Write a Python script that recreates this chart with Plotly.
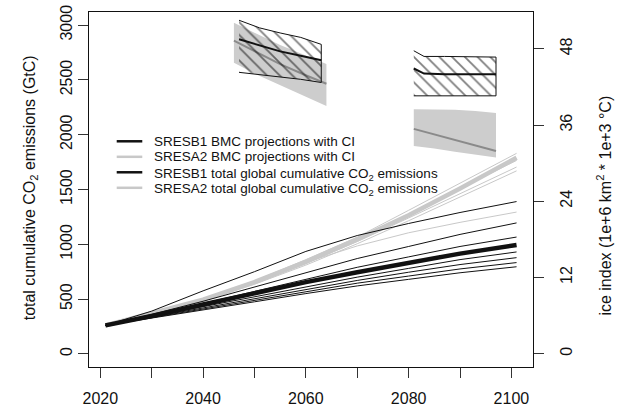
import plotly.graph_objects as go

# ---- data ----
years = [2021, 2030, 2040, 2050, 2060, 2070, 2080, 2090, 2101]

b1_thin = [
    [260, 390, 575, 750, 935, 1080, 1190, 1290, 1390],
    [260, 360, 480, 610, 740, 870, 980, 1090, 1195],
    [260, 350, 460, 570, 680, 790, 885, 980, 1066],
    [260, 340, 430, 520, 610, 700, 780, 860, 930],
    [260, 335, 420, 505, 590, 670, 745, 815, 878],
    [260, 330, 410, 490, 570, 645, 710, 775, 833],
    [260, 325, 400, 475, 550, 620, 680, 740, 795],
]
b1_thick = [260, 345, 450, 555, 655, 745, 830, 915, 994]

a2_thin = [
    [260, 370, 500, 665, 860, 1065, 1310, 1560, 1830],
    [260, 368, 495, 655, 845, 1045, 1275, 1510, 1765],
    [260, 365, 490, 645, 825, 1025, 1240, 1460, 1705],
    [260, 362, 485, 635, 810, 1005, 1215, 1435, 1670],
    [260, 370, 505, 665, 835, 985, 1105, 1200, 1294],
]
a2_thick = [260, 368, 495, 655, 840, 1045, 1265, 1510, 1790]

# BMC projections (ice index) with CI
b1_p1_years = [2047, 2051, 2055, 2059, 2063]
b1_p1_upper = [52.5, 51.3, 50.5, 49.8, 48.7]
b1_p1_mid = [49.5, 48.5, 47.6, 46.9, 46.2]
b1_p1_lower = [44.3, 44.0, 43.6, 43.2, 42.7]

a2_p1_years = [2046, 2050.5, 2055, 2059.5, 2064]
a2_p1_upper = [52.1, 50.3, 48.6, 47.1, 45.6]
a2_p1_mid = [49.3, 47.4, 45.6, 44.0, 42.5]
a2_p1_lower = [45.8, 43.9, 42.2, 40.6, 39.0]

b1_p2_years = [2081, 2083, 2087, 2092, 2097]
b1_p2_upper = [47.7, 46.8, 46.8, 46.7, 46.7]
b1_p2_mid = [44.9, 44.1, 44.0, 44.0, 44.0]
b1_p2_lower = [40.6, 40.6, 40.6, 40.6, 40.6]

a2_p2_years = [2081, 2085, 2089, 2093, 2097]
a2_p2_upper = [38.5, 38.5, 38.4, 38.2, 37.9]
a2_p2_mid = [35.4, 34.5, 33.7, 32.8, 31.9]
a2_p2_lower = [32.7, 32.3, 31.8, 31.3, 30.9]

x_ticks = [2020, 2030, 2040, 2050, 2060, 2070, 2080, 2090, 2100]
x_labels = ["2020", "", "2040", "", "2060", "", "2080", "", "2100"]
y1_ticks = [0, 500, 1000, 1500, 2000, 2500, 3000]
y2_ticks = [0, 12, 24, 36, 48]

legend_names = [
    "SRESB1 BMC projections with CI",
    "SRESA2 BMC projections with CI",
    "SRESB1 total global cumulative CO<sub>2</sub> emissions",
    "SRESA2 total global cumulative CO<sub>2</sub> emissions",
]

BLACK = "#111111"
LGRAY = "#c8c8c8"
BAND = "#cdcdcd"
MGRAY = "#8a8a8a"
FAMILY = "Liberation Sans, Arial, sans-serif"

fig = go.Figure()

# emission lines (left axis)
for ys in a2_thin:
    fig.add_trace(go.Scatter(x=years, y=ys, mode="lines", line=dict(color=LGRAY, width=1),
                             showlegend=False, hoverinfo="skip"))
fig.add_trace(go.Scatter(x=years, y=a2_thick, mode="lines", line=dict(color=LGRAY, width=4.5),
                         showlegend=False))
for ys in b1_thin:
    fig.add_trace(go.Scatter(x=years, y=ys, mode="lines", line=dict(color=BLACK, width=1),
                             showlegend=False, hoverinfo="skip"))
fig.add_trace(go.Scatter(x=years, y=b1_thick, mode="lines", line=dict(color=BLACK, width=4.5),
                         showlegend=False))


def band(xs, up, lo, **kw):
    return go.Scatter(x=xs + xs[::-1], y=up + lo[::-1], fill="toself", mode="lines",
                      yaxis="y2", showlegend=False, hoverinfo="skip", **kw)


# BMC projections (right axis)
for xs, up, mid, lo in [(a2_p1_years, a2_p1_upper, a2_p1_mid, a2_p1_lower),
                        (a2_p2_years, a2_p2_upper, a2_p2_mid, a2_p2_lower)]:
    fig.add_trace(band(xs, up, lo, fillcolor=BAND, line=dict(width=0, color=BAND)))
    fig.add_trace(go.Scatter(x=xs, y=mid, mode="lines", yaxis="y2", showlegend=False,
                             line=dict(color=MGRAY, width=2)))

for xs, up, mid, lo in [(b1_p1_years, b1_p1_upper, b1_p1_mid, b1_p1_lower),
                        (b1_p2_years, b1_p2_upper, b1_p2_mid, b1_p2_lower)]:
    fig.add_trace(band(xs, up, lo, fillcolor="rgba(0,0,0,0)",
                       fillpattern=dict(shape="\\", fgcolor="#000000", bgcolor="rgba(0,0,0,0)",
                                        size=9, solidity=0.2, fillmode="overlay"),
                       line=dict(width=1, color=BLACK)))
    fig.add_trace(go.Scatter(x=xs, y=mid, mode="lines", yaxis="y2", showlegend=False,
                             line=dict(color=BLACK, width=2)))

# manual legend (line samples + texts)
leg_rows_y = [0.6358, 0.5921, 0.5485, 0.5048]
leg_colors = [BLACK, LGRAY, BLACK, LGRAY]
for name, col, yy in zip(legend_names, leg_colors, leg_rows_y):
    fig.add_shape(type="line", xref="paper", yref="paper", x0=0.0624, x1=0.120, y0=yy, y1=yy,
                  line=dict(color=col, width=2.5))
    fig.add_annotation(xref="paper", yref="paper", x=0.142, y=yy, text=name, showarrow=False,
                       xanchor="left", yanchor="middle",
                       yshift=-2 if "<sub>" in name else 0,
                       font=dict(family=FAMILY, size=13.5, color="#111"))

axis_font = dict(family=FAMILY, size=16, color="#111")

# axis titles as annotations
fig.add_annotation(xref="paper", yref="paper", x=-0.133, y=0.506, xanchor="center", yanchor="middle",
                   text="total cumulative CO<sub>2</sub> emissions (GtC)", textangle=-90,
                   showarrow=False, font=axis_font)
fig.add_annotation(xref="paper", yref="paper", x=1.161, y=0.456, xanchor="center", yanchor="middle",
                   text="ice index (1e+6 km<sup>2</sup> * 1e+3 °C)", textangle=-90,
                   showarrow=False, font=axis_font)

fig.update_layout(
    width=627, height=406,
    margin=dict(l=89, r=94, t=12, b=39, autoexpand=False),
    plot_bgcolor="white", paper_bgcolor="white",
    font=axis_font,
    showlegend=False,
    xaxis=dict(range=[2017.8, 2104.2], tickvals=x_ticks, ticktext=x_labels, automargin=False,
               showline=True, mirror=True, linecolor=BLACK, linewidth=1,
               ticks="outside", ticklen=10, tickcolor="#333", showgrid=False, zeroline=False,
               tickfont=axis_font, ticklabelstandoff=7),
    yaxis=dict(range=[-120, 3120], tickvals=y1_ticks, tickangle=-90, automargin=False,
               showline=True, mirror=True, linecolor=BLACK, linewidth=1,
               ticks="outside", ticklen=10, tickcolor="#333", showgrid=False, zeroline=False,
               tickfont=axis_font),
    yaxis2=dict(range=[-2.1, 53.8], tickvals=y2_ticks, tickangle=-90, overlaying="y", side="right",
                automargin=False, showline=False, ticks="outside", ticklen=10, tickcolor="#333",
                showgrid=False, zeroline=False, tickfont=axis_font, ticklabelstandoff=9),
)

fig.write_html("out.html")
